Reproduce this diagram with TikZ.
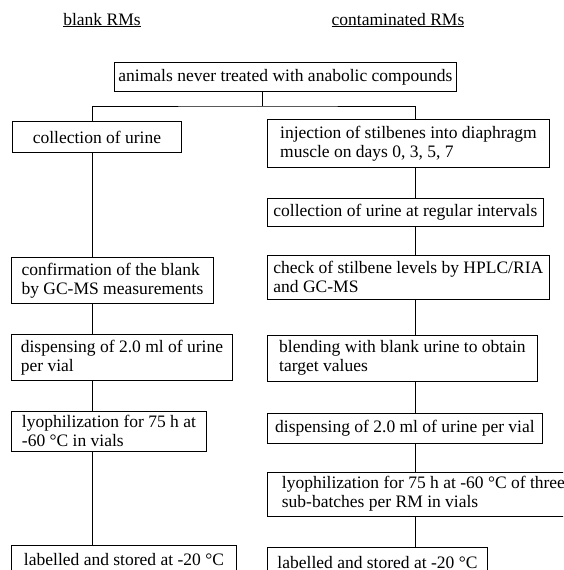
\documentclass[tikz,border=0pt]{standalone}
\usepackage{fontspec}
\setmainfont{Liberation Serif}
\usetikzlibrary{positioning}

\begin{document}
\begin{tikzpicture}[
  x=1pt, y=-1pt,
  font=\fontsize{17.5}{19}\selectfont,
  line width=0.9pt,
  s/.style={draw, anchor=north west, align=left, inner xsep=6pt, inner ysep=4pt,
    minimum height=29pt},
  t/.style={s, minimum height=46pt},
  hd/.style={anchor=base}
]
\useasboundingbox (0,0) rectangle (563,570);
\clip (0,0) rectangle (563,570);

% column headings
\node[hd] (hb) at (102,25) {\underline{blank RMs}};
\node[hd] (hc) at (398,25) {\underline{contaminated RMs}};

\node[s, inner xsep=4pt] (top) at (114,62) {animals never treated with anabolic compounds};

% blank RMs
\node[s, minimum height=31pt, minimum width=169pt] (b1) at (12,121) {collection of urine};
\node[t, minimum width=202pt] (b2) at (11,257) {confirmation of the blank\\by GC-MS measurements};
\node[t, minimum width=221pt, below=30pt of b2.south west, anchor=north west] (b3) {dispensing of 2.0 ml of urine\\per vial};
\node[t, minimum width=195pt, minimum height=40pt, below=30pt of b3.south west, anchor=north west] (b4) {lyophilization for 75 h at\\-60 °C in vials};
\node[s, minimum width=225pt] (b5) at (11,545) {labelled and stored at -20 °C};

% contaminated RMs
\node[t, minimum width=282pt, minimum height=48pt] (c1) at (267,119) {injection of stilbenes into diaphragm\\muscle on days 0, 3, 5, 7};
\node[s, minimum width=274pt, minimum height=28pt, below=30pt of c1.south west, anchor=north west] (c2) {collection of urine at regular intervals};
\node[t, minimum width=276pt, minimum height=44pt, below=28pt of c2.south west, anchor=north west] (c3) {check of stilbene levels by HPLC/RIA\\and GC-MS};
\node[t, minimum width=270pt, below=35pt of c3.south west, anchor=north west] (c4) {blending with blank urine to obtain\\target values};
\node[s, minimum width=275pt, minimum height=30pt, below=31pt of c4.south west, anchor=north west] (c5) {dispensing of 2.0 ml of urine per vial};
\node[t, minimum width=312pt, minimum height=44pt, below=28pt of c5.south west, anchor=north west] (c6) {lyophilization for 75 h at -60 °C of three\\sub-batches per RM in vials};
\node[s, minimum width=220pt, below=31pt of c6.south west, anchor=north west] (c7) {labelled and stored at -20 °C};

% connectors
\coordinate (lx) at (92,0);
\coordinate (rx) at (415,0);
\coordinate (fork) at (262,106);
\draw (top.south -| fork) -- (fork);
\draw (b1.north -| lx) |- (fork) -| (c1.north -| rx);
\draw (b1.south -| lx) -- (b2.north -| lx);
\draw (b2.south -| lx) -- (b3.north -| lx);
\draw (b3.south -| lx) -- (b4.north -| lx);
\draw (b4.south -| lx) -- (b5.north -| lx);
\draw (c1.south -| rx) -- (c2.north -| rx);
\draw (c2.south -| rx) -- (c3.north -| rx);
\draw (c3.south -| rx) -- (c4.north -| rx);
\draw (c4.south -| rx) -- (c5.north -| rx);
\draw (c5.south -| rx) -- (c6.north -| rx);
\draw (c6.south -| rx) -- (c7.north -| rx);
\end{tikzpicture}
\end{document}
